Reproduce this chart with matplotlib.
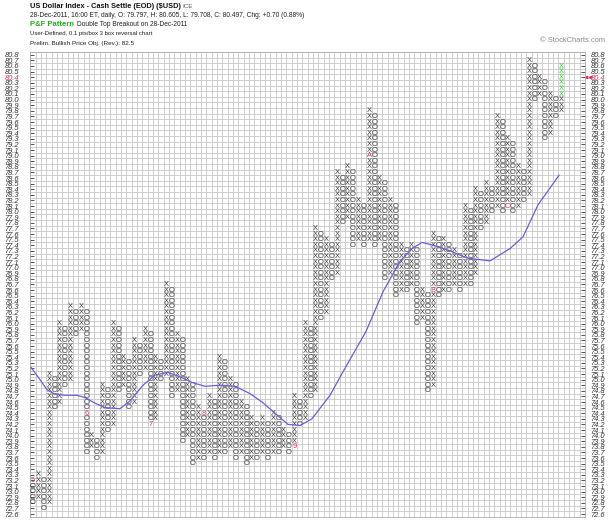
import numpy as np
import matplotlib.pyplot as plt
import matplotlib.transforms as mtransforms

# point & figure columns, left to right; first column is O, then X / O alternate
col_low = [72.8, 72.9, 72.7, 72.8, 74.5, 74.6, 74.9, 75.0, 75.8, 75.9,
           73.7, 73.8, 73.6, 73.7, 74.1, 74.2, 74.8, 74.9, 74.5, 74.6,
           75.1, 75.2, 74.2, 74.3, 75.0, 75.1, 74.7, 74.8, 73.9, 74.0,
           73.5, 73.6, 73.6, 73.7, 73.6, 73.7, 73.7, 73.8, 73.6, 73.7,
           73.5, 73.6, 73.6, 73.7, 73.6, 73.7, 73.7, 73.8, 73.7, 73.8,
           74.2, 74.3, 74.7, 74.8, 76.1, 76.2, 76.8, 76.9, 77.8, 77.9,
           77.4, 77.5, 77.4, 77.5, 77.4, 77.5, 76.8, 76.9, 76.5, 76.6,
           76.6, 76.7, 76.0, 76.1, 74.8, 74.9, 76.5, 76.6, 76.6, 76.7,
           76.6, 76.7, 76.7, 76.9, 77.7, 77.8, 78.0, 78.1, 78.0, 78.1,
           78.0, 78.1, 78.2, 78.3, 80.0, 80.1, 79.3, 79.4, 79.7, 79.8]
col_high = [73.2, 73.3, 73.2, 75.1, 75.0, 76.0, 75.9, 76.3, 76.2, 76.3,
            76.2, 74.0, 73.9, 74.9, 74.8, 76.0, 75.9, 75.4, 75.3, 75.7,
            75.6, 75.9, 75.8, 75.4, 75.3, 76.7, 76.6, 75.8, 75.7, 75.0,
            74.9, 74.5, 74.4, 74.7, 74.6, 75.4, 75.3, 75.0, 74.9, 74.6,
            74.5, 74.3, 74.2, 74.3, 74.2, 74.4, 74.3, 74.1, 74.0, 74.7,
            74.6, 76.0, 75.9, 77.7, 77.6, 77.5, 77.4, 78.7, 78.6, 78.8,
            78.7, 78.2, 78.1, 79.8, 79.7, 78.6, 78.5, 78.2, 78.1, 77.4,
            77.3, 77.4, 77.3, 76.6, 76.5, 77.6, 77.5, 77.5, 77.4, 77.3,
            77.2, 78.1, 78.0, 78.4, 78.3, 78.5, 78.4, 79.7, 79.6, 79.3,
            79.2, 78.8, 78.7, 80.7, 80.6, 80.4, 80.3, 80.1, 80.0, 80.6]

# month markers: (column, price, label)
month_col = [1, 11, 23, 33, 50, 64, 76, 90]
month_val = [73.2, 74.4, 74.2, 74.4, 73.8, 79.0, 76.6, 78.1]
month_lbl = ['5', '6', '7', '8', '9', 'A', 'B', 'C']

# today's boxes (green)
green_col = 100
green_vals = [80.1, 80.2, 80.3, 80.4, 80.5, 80.6]

# moving average line (column position, price)
ma_col = [0.63, 2.31, 3.63, 5.13, 7.0, 9.25, 10.75, 12.63, 14.5, 17.31,
          19.19, 21.63, 23.88, 26.31, 28.56, 30.81, 33.25, 36.06, 38.88, 41.69,
          43.94, 46.38, 48.81, 51.06, 53.31, 56.69, 59.13, 63.44, 66.63, 69.81,
          72.06, 73.94, 76.0, 79.19, 82.38, 86.69, 90.44, 92.88, 95.69, 99.63]
ma_val = [75.22, 75.0, 74.82, 74.74, 74.72, 74.72, 74.68, 74.58, 74.5, 74.48,
          74.62, 74.9, 75.08, 75.13, 75.05, 74.95, 74.88, 74.9, 74.88, 74.75,
          74.6, 74.4, 74.2, 74.18, 74.3, 74.72, 75.14, 75.86, 76.57, 77.11,
          77.34, 77.45, 77.4, 77.3, 77.17, 77.12, 77.34, 77.55, 78.12, 78.65]

last_price_box = 80.4
y_min, y_max = 72.6, 80.8
PINK = '#dd3370'

fig = plt.figure(figsize=(6.15, 5.26), dpi=100)
W, H = 615, 526
ax = fig.add_axes([30.3 / W, (H - 516.8) / H, 554.7 / W, 464.8 / H])
ax.set_xlim(0.5, 104.5)
ax.set_ylim(y_min - 0.05, y_max + 0.05)

# box grid
for c in np.arange(0.5, 105, 1.0):
    ax.axvline(c, color='#c8c8c8', lw=0.6, zorder=0)
for v in np.arange(y_min - 0.05, y_max + 0.1, 0.1):
    ax.axhline(v, color='#c8c8c8', lw=0.6, zorder=0)

marks = {(c, round(v * 10)): l for c, v, l in zip(month_col, month_val, month_lbl)}
green = {round(v * 10) for v in green_vals}

for i, (lo, hi) in enumerate(zip(col_low, col_high)):
    col = i + 1
    sym = 'O' if i % 2 == 0 else 'X'
    for n in range(round(lo * 10), round(hi * 10) + 1):
        txt, colr = sym, '#3a3a3a'
        if (col, n) in marks:
            txt, colr = marks[(col, n)], PINK
        elif col == green_col and n in green:
            colr = '#2ecc2e'
        ax.text(col, n / 10, txt, ha='center', va='center', fontsize=5.4,
                color=colr, family='Liberation Sans', zorder=3)

ax.plot(ma_col, ma_val, color='#6b5ce0', lw=0.9, zorder=4)

ticks = np.round(np.arange(y_min, y_max + 0.05, 0.1), 1)
ax.set_yticks(ticks)
ax.set_yticklabels([f'{t:.1f}' for t in ticks])
ax.set_xticks([])
ax.tick_params(axis='y', left=True, right=True, labelleft=True, labelright=True,
               direction='in', length=3, width=0.6, color='#333333',
               labelsize=5.4, labelcolor='#333333', pad=8)

# right labels sit closer to the axis than the left ones
offset = mtransforms.ScaledTranslation(-4 / 72, 0, fig.dpi_scale_trans)
for t in ax.yaxis.get_major_ticks():
    t.label2.set_transform(t.label2.get_transform() + offset)
    for lbl in (t.label1, t.label2):
        lbl.set_fontstyle('italic')
        lbl.set_family('Liberation Sans')
    if abs(t.get_loc() - last_price_box) < 1e-6:
        t.label1.set_color(PINK)
        t.label2.set_color(PINK)

# little pointer at the last price on the right
ax.plot([104.75, 105.35], [last_price_box, last_price_box], ls='none', marker='<',
        ms=1.8, color=PINK, clip_on=False)

for s in ax.spines.values():
    s.set_color('#aaaaaa')
    s.set_linewidth(0.6)


def ftext(x, y, s, **kw):
    fig.text(x / W, 1 - y / H, s, va='center', ha='left', family='Liberation Sans', **kw)


ftext(30, 6, 'US Dollar Index - Cash Settle (EOD) ($USD)', fontsize=5.3, weight='bold', color='#111111')
ftext(182, 6.5, 'ICE', fontsize=4.5, color='#555555')
ftext(30, 15.5, '28-Dec-2011, 16:00 ET, daily, O: 79.797, H: 80.605, L: 79.708, C: 80.497, Chg: +0.70 (0.88%)',
      fontsize=4.8, color='#222222')
ftext(30, 24.5, 'P&F Pattern', fontsize=5.5, weight='bold', color='#22aa22')
ftext(77, 24.8, 'Double Top Breakout on 28-Dec-2011', fontsize=4.8, color='#222222')
ftext(30, 34, 'User-Defined, 0.1 pts/box 3 box reversal chart', fontsize=4.3, color='#222222')
ftext(30, 43, 'Prelim. Bullish Price Obj. (Rev.): 82.5', fontsize=4.6, color='#222222')
ftext(540, 40.5, '\u00a9 StockCharts.com', fontsize=5.4, color='#888888')

fig.savefig('out.png', dpi=100)
